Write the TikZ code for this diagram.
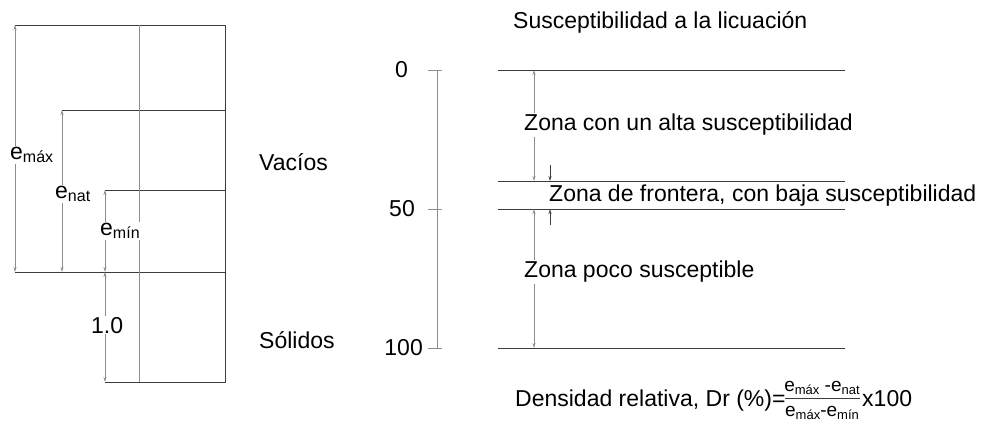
\documentclass[tikz,border=0pt]{standalone}
\usepackage{fontspec}
\setmainfont{Liberation Sans}
\usetikzlibrary{arrows.meta}
\definecolor{linedark}{RGB}{60,60,60}
\definecolor{linegray}{RGB}{140,140,140}
\newcommand{\sub}[1]{\raisebox{-3.5pt}{\fontsize{16}{16}\selectfont #1}}
\newcommand{\fsub}[1]{\raisebox{-3pt}{\fontsize{13}{13}\selectfont #1}}
\tikzset{
  txt/.style={font=\fontsize{23}{26}\selectfont, inner sep=1pt},
  dimlbl/.style={txt, fill=white},
  fraclbl/.style={font=\fontsize{19}{19}\selectfont, inner sep=0pt, anchor=base},
  frame/.style={draw=linedark, line width=0.8pt},
  divider/.style={draw=linegray, line width=0.8pt},
  dimline/.style={draw=linegray, line width=0.8pt, {Stealth[length=5pt,width=3pt]}-{Stealth[length=5pt,width=3pt]}},
  onearrow/.style={draw=linedark, line width=0.8pt, -{Stealth[length=5pt,width=3pt]}}
}
\begin{document}
\begin{tikzpicture}[x=1pt,y=-1pt]
    \useasboundingbox (0,0) rectangle (984,423);
    % phase diagram
    \coordinate (tl) at (15,25);
    \coordinate (tr) at (225,25);
    \coordinate (nl) at (62,110);
    \coordinate (nr) at (225,110);
    \coordinate (ml) at (105,190);
    \coordinate (mr) at (225,190);
    \coordinate (sl) at (15,272);
    \coordinate (sr) at (225,272);
    \coordinate (bl) at (105,382);
    \coordinate (br) at (225,382);
    \draw[frame] (tl) -- (tr) -- (br) -- (bl);
    \draw[frame] (nl) -- (nr);
    \draw[frame] (ml) -- (mr);
    \draw[frame] (sl) -- (sr);
    \draw[divider] (139,25) -- (139,382);
    % void ratio dimensions
    \draw[dimline] (tl) -- (sl);
    \draw[dimline] (nl) -- (nl |- sl);
    \draw[dimline] (ml) -- (ml |- sl);
    \draw[dimline] (ml |- sl) -- (bl);
    \node[dimlbl, anchor=base west] (emax) at (9,159) {e\sub{máx}};
    \node[dimlbl, anchor=base west] (enat) at (54,198) {e\sub{nat}};
    \node[dimlbl, anchor=base west] (emin) at (99,235) {e\sub{mín}};
    \node[dimlbl, anchor=base west] (uno) at (90,333) {1.0};
    \node[txt, anchor=west] (vacios) at (258,162) {Vacíos};
    \node[txt, anchor=west] (solidos) at (258,340) {Sólidos};
    % scale
    \coordinate (s0) at (437,70);
    \coordinate (s50) at (437,209);
    \coordinate (s100) at (437,348);
    \draw[divider] (s0) -- (s100);
    \foreach \c in {s0,s50,s100}
      \draw[divider] ([xshift=-9pt]\c) -- ([xshift=5pt]\c);
    \node[txt, anchor=east] (l0) at (409,70) {0};
    \node[txt, anchor=east] (l50) at (416,209) {50};
    \node[txt, anchor=east] (l100) at (424,348) {100};
    % zones
    \coordinate (z0) at (498,70);
    \coordinate (z40) at (498,181);
    \coordinate (z50) at (498,209);
    \coordinate (z100) at (498,348);
    \foreach \c in {z0,z40,z50,z100}
      \draw[frame] (\c) -- ([xshift=347pt]\c);
    \draw[dimline] (534,70) -- (534,181);
    \draw[dimline] (534,209) -- (534,348);
    \draw[onearrow] (550,165) -- (550,181);
    \draw[onearrow] (550,225) -- (550,209);
    \node[txt, anchor=west] (title) at (512,22) {Susceptibilidad a la licuación};
    \node[dimlbl, anchor=west] (alta) at (523,125) {Zona con un alta susceptibilidad};
    \node[txt, anchor=west, inner sep=0pt] (frontera) at (549,196) {Zona de frontera, con baja susceptibilidad};
    \node[dimlbl, anchor=west] (poco) at (523,272) {Zona poco susceptible};
    % relative density
    \node[txt, anchor=base west] (dr) at (514,406) {Densidad relativa, Dr (\%)=};
    \draw[frame] (785,398) -- (860,398);
    \node[fraclbl] (num) at (822,391) {e\fsub{máx} -e\fsub{nat}};
    \node[fraclbl] (den) at (822,416) {e\fsub{máx}-e\fsub{mín}};
    \node[txt, anchor=base west] (cien) at (861,406) {x100};
\end{tikzpicture}
\end{document}
